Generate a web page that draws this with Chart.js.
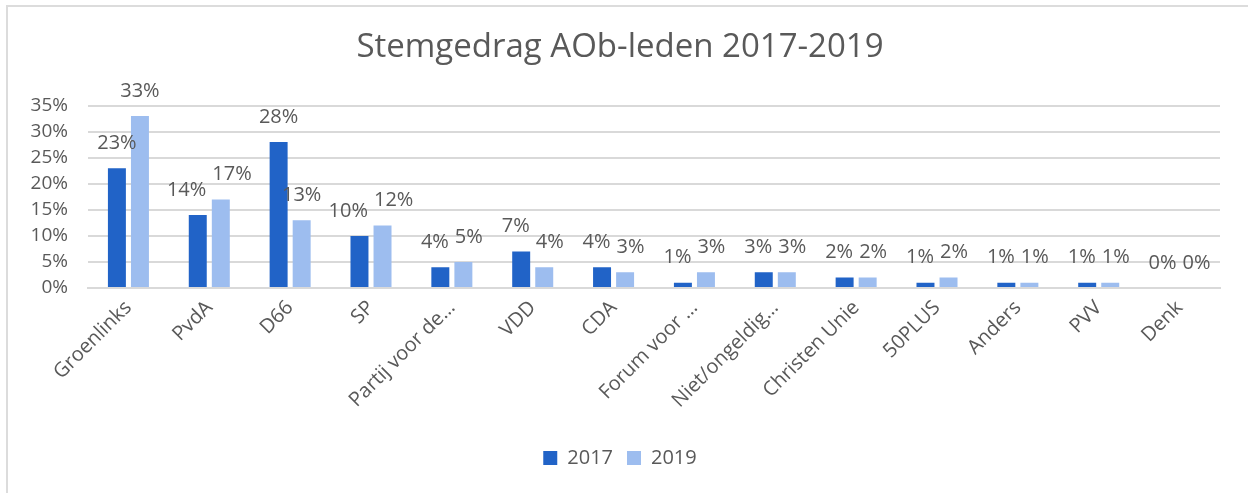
<!DOCTYPE html>
<html>
<head>
<meta charset="utf-8">
<script src="https://cdn.jsdelivr.net/npm/chart.js@4"></script>
<style>
  html, body { margin: 0; padding: 0; background: #fff; }
  #wrap { position: absolute; left: 0; top: 0; width: 1248px; height: 493px; }
  #frameLine { position: absolute; left: 6px; top: 5px; width: 1242px; height: 488px;
    border-top: 2px solid #dcdcdc; border-left: 2px solid #dcdcdc; box-sizing: border-box; }
</style>
</head>
<body>
<div id="frameLine"></div>
<div id="wrap"><canvas id="chart" width="1248" height="493"></canvas></div>
<script>
const parties = ['Groenlinks', 'PvdA', 'D66', 'SP', 'Partij voor de…', 'VDD', 'CDA', 'Forum voor …',
  'Niet/ongeldig…', 'Christen Unie', '50PLUS', 'Anders', 'PVV', 'Denk'];
const votes2017 = [23, 14, 28, 10, 4, 7, 4, 1, 3, 2, 1, 1, 1, 0];
const votes2019 = [33, 17, 13, 12, 5, 4, 3, 3, 3, 2, 2, 1, 1, 0];
const yTicks = [0, 5, 10, 15, 20, 25, 30, 35];

const textColor = '#595959';
const gridColor = '#d9d9d9';
const fontFamily = '"Open Sans", "Noto Sans", sans-serif';

// draws the percentage above every bar, pushing a pair apart when they collide
const barLabels = {
  id: 'barLabels',
  afterDatasetsDraw(chart) {
    const ctx = chart.ctx;
    ctx.save();
    ctx.font = '20px ' + fontFamily;
    ctx.fillStyle = textColor;
    ctx.textAlign = 'center';
    ctx.textBaseline = 'middle';
    const a = chart.getDatasetMeta(0).data;
    const b = chart.getDatasetMeta(1).data;
    a.forEach((barA, j) => {
      const barB = b[j];
      const tA = votes2017[j] + '%';
      const tB = votes2019[j] + '%';
      let xA = barA.x, xB = barB.x;
      const yA = barA.y - 25, yB = barB.y - 25;
      const wA = ctx.measureText(tA).width, wB = ctx.measureText(tB).width;
      const overlap = (xA + wA / 2 + 6) - (xB - wB / 2);
      if (overlap > 0 && Math.abs(yA - yB) < 22) {
        xA -= overlap / 2;
        xB += overlap / 2;
      }
      ctx.fillText(tA, xA, yA);
      ctx.fillText(tB, xB, yB);
    });
    ctx.restore();
  }
};

new Chart(document.getElementById('chart'), {
  type: 'bar',
  data: {
    labels: parties,
    datasets: [
      { label: '2017', data: votes2017, backgroundColor: '#2163c7', categoryPercentage: 0.57, barPercentage: 0.78 },
      { label: '2019', data: votes2019, backgroundColor: '#9dbdef', categoryPercentage: 0.57, barPercentage: 0.78 }
    ]
  },
  options: {
    responsive: false,
    animation: false,
    layout: { padding: { left: 20, right: 28, top: 0, bottom: 15 } },
    plugins: {
      title: {
        display: true,
        text: 'Stemgedrag AOb-leden 2017-2019',
        color: textColor,
        font: { family: fontFamily, size: 33, weight: 'normal' },
        padding: { top: 28, bottom: 38 }
      },
      legend: {
        position: 'bottom',
        labels: {
          color: textColor,
          font: { family: fontFamily, size: 20 },
          boxWidth: 14, boxHeight: 14, padding: 14
        }
      },
      tooltip: { enabled: false }
    },
    scales: {
      y: {
        min: 0, max: 35,
        afterBuildTicks: (axis) => { axis.ticks = yTicks.map(v => ({ value: v })); },
        afterFit: (axis) => { axis.width = 68; },
        grid: { color: gridColor, lineWidth: 2, drawTicks: false },
        border: { display: false },
        ticks: {
          color: textColor,
          font: { family: fontFamily, size: 19 },
          padding: 20,
          callback: (v) => v + '%'
        }
      },
      x: {
        afterFit: (axis) => { axis.height = 146; },
        grid: { display: false, drawTicks: false },
        border: { display: true, color: gridColor, width: 2 },
        ticks: {
          color: textColor,
          font: { family: fontFamily, size: 20 },
          maxRotation: 45, minRotation: 45,
          padding: 8,
          autoSkip: false
        }
      }
    }
  },
  plugins: [barLabels]
});
</script>
</body>
</html>
